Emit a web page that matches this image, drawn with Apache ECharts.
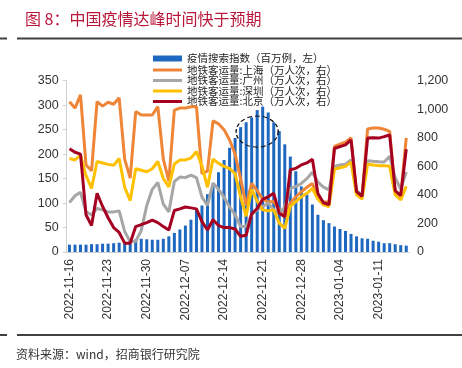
<!DOCTYPE html>
<html><head><meta charset="utf-8">
<script src="https://cdn.jsdelivr.net/npm/echarts@6/dist/echarts.min.js"></script>
<style>html,body{margin:0;padding:0;background:#fff;}#c{width:462px;height:368px;}</style>
</head><body><div id="c"></div>
<script>
const categories = [
'2022-11-16','2022-11-17','2022-11-18','2022-11-19','2022-11-20','2022-11-21','2022-11-22','2022-11-23','2022-11-24','2022-11-25',
'2022-11-26','2022-11-27','2022-11-28','2022-11-29','2022-11-30','2022-12-01','2022-12-02','2022-12-03','2022-12-04','2022-12-05',
'2022-12-06','2022-12-07','2022-12-08','2022-12-09','2022-12-10','2022-12-11','2022-12-12','2022-12-13','2022-12-14','2022-12-15',
'2022-12-16','2022-12-17','2022-12-18','2022-12-19','2022-12-20','2022-12-21','2022-12-22','2022-12-23','2022-12-24','2022-12-25',
'2022-12-26','2022-12-27','2022-12-28','2022-12-29','2022-12-30','2022-12-31','2023-01-01','2023-01-02','2023-01-03','2023-01-04',
'2023-01-05','2023-01-06','2023-01-07','2023-01-08','2023-01-09','2023-01-10','2023-01-11','2023-01-12','2023-01-13','2023-01-14',
'2023-01-15','2023-01-16'];
// 疫情搜索指数（百万例，左）
const searchIndex = [15,15,15,15,16,16,17,17,18,19,21,23,26,27,26,25,25,27,32,39,46,54,66,88,95,118,140,163,188,213,233,255,265,275,290,297,285,265,247,220,195,165,134,117,97,76,65,59,52,47,43,37,32,28,27,23,21,18,18,16,14,13];
// 地铁客运量（万人次，右）
const shanghai = [1053,1008,1101,610,569,1053,1022,1049,1035,1080,651,518,984,960,960,960,1018,651,497,994,1008,1008,1018,1018,549,566,919,898,857,785,686,514,326,480,429,370,350,353,295,247,343,387,422,453,480,380,350,350,740,755,770,800,420,390,862,868,868,860,845,420,395,800];
const guangzhou = [346,394,418,281,261,305,295,281,281,288,144,72,75,150,326,439,487,336,281,494,525,521,538,521,384,326,483,439,384,315,261,178,178,261,295,319,343,295,271,315,446,459,480,514,558,490,455,435,600,610,615,645,430,400,640,635,632,630,670,520,440,560];
const shenzhen = [655,645,679,535,446,634,624,614,607,655,453,360,583,573,562,583,634,514,456,617,645,645,658,703,603,453,651,621,600,586,549,387,250,439,357,295,288,295,202,165,319,353,387,411,445,370,330,318,580,590,600,630,400,370,615,610,605,605,600,400,365,460];
const beijing = [723,699,686,261,185,411,319,240,171,137,62,62,178,192,206,223,206,178,154,291,302,315,309,302,213,154,226,185,171,171,161,110,117,267,305,370,387,411,271,247,576,586,610,624,650,410,345,332,725,738,750,785,423,390,798,800,798,808,820,430,395,720];
const leftTicks = {min:0, max:350, interval:50};
const rightTicks = {min:0, max:1200, interval:200};
const names = ['疫情搜索指数（百万例，左）','地铁客运量:上海（万人次，右）','地铁客运量:广州（万人次，右）','地铁客运量:深圳（万人次，右）','地铁客运量:北京（万人次，右）'];
const colors = ['#1f68c0','#ef8536','#a6a6a6','#ffc000','#a50021'];

const CJK = '"Noto Sans CJK SC", sans-serif';
const LAT = '"Liberation Sans", Arial, sans-serif';
const chart = echarts.init(document.getElementById('c'), null, {renderer:'canvas'});
const lineSeries = (i, data) => ({
  name: names[i], type:'line', yAxisIndex:1, data:data, showSymbol:false, symbol:'none',
  lineStyle:{color:colors[i], width:3}, itemStyle:{color:colors[i]}, z:3+i, animation:false
});
const legText = {fontSize:10.5, color:'#222', fontFamily:CJK, lineHeight:11};
const option = {
  animation:false,
  backgroundColor:'#fff',
  title:{text:'图 8：中国疫情达峰时间快于预期', left:20, top:6,
    textStyle:{color:'#b8173a', fontSize:16, fontWeight:'normal', fontFamily:CJK}},
  legend:[
    {data:[{name:names[0], icon:'rect'}], left:148, top:51, itemWidth:29, itemHeight:6, itemGap:0,
     textStyle:legText, selectedMode:false, padding:[2,5]},
    {data:names.slice(1).map(n=>({name:n, icon:'rect'})), orient:'vertical', left:148, top:62.5, itemWidth:29, itemHeight:3, itemGap:-0.5,
     textStyle:legText, selectedMode:false, padding:[2,5]}
  ],
  grid:{left:66.7, right:53, top:80.7, bottom:116, containLabel:false},
  xAxis:{type:'category', data:categories, boundaryGap:true,
    axisLine:{lineStyle:{color:'#d0d0d0', width:1}},
    axisTick:{interval:6, length:4, lineStyle:{color:'#d0d0d0'}},
    axisLabel:{interval:6, rotate:90, fontSize:12, color:'#333', fontFamily:LAT, margin:7}},
  yAxis:[
    {type:'value', min:leftTicks.min, max:leftTicks.max, interval:leftTicks.interval,
     axisLine:{show:true, lineStyle:{color:'#d0d0d0'}}, axisTick:{show:true, length:4, lineStyle:{color:'#d0d0d0'}},
     splitLine:{show:false}, axisLabel:{fontSize:12.5, color:'#333', fontFamily:LAT, margin:8}},
    {type:'value', min:rightTicks.min, max:rightTicks.max, interval:rightTicks.interval,
     axisLine:{show:false}, axisTick:{show:false}, splitLine:{show:false},
     axisLabel:{fontSize:12.5, color:'#333', fontFamily:LAT, margin:8,
       formatter:v=>v.toLocaleString('en-US')}}
  ],
  series:[
    {name:names[0], type:'bar', data:searchIndex, barWidth:3, itemStyle:{color:colors[0]}, z:2},
    lineSeries(1, shanghai),
    lineSeries(2, guangzhou),
    lineSeries(3, shenzhen),
    lineSeries(4, beijing)
  ]
};
chart.setOption(option);
const ctr = chart.convertToPixel({xAxisIndex:0, yAxisIndex:0}, [34, 246]);
chart.setOption({graphic:[
  {type:'circle', x:ctr[0], y:ctr[1], scaleY:0.74, shape:{cx:0, cy:0, r:21}, z:50,
   style:{fill:'none', stroke:'#111', lineWidth:1.4, lineDash:[5,3]}},
  {type:'line', shape:{x1:0, y1:38.5, x2:7, y2:38.5}, style:{stroke:'#404040', lineWidth:2}},
  {type:'line', shape:{x1:17, y1:38.5, x2:462, y2:38.5}, style:{stroke:'#404040', lineWidth:2}},
  {type:'line', shape:{x1:0, y1:335, x2:7, y2:335}, style:{stroke:'#404040', lineWidth:2}},
  {type:'line', shape:{x1:17, y1:335, x2:462, y2:335}, style:{stroke:'#404040', lineWidth:2}},
  {type:'text', x:16, y:348, style:{text:'资料来源：wind，招商银行研究院', fill:'#333', font:'12px '+CJK}}
]});
</script></body></html>
